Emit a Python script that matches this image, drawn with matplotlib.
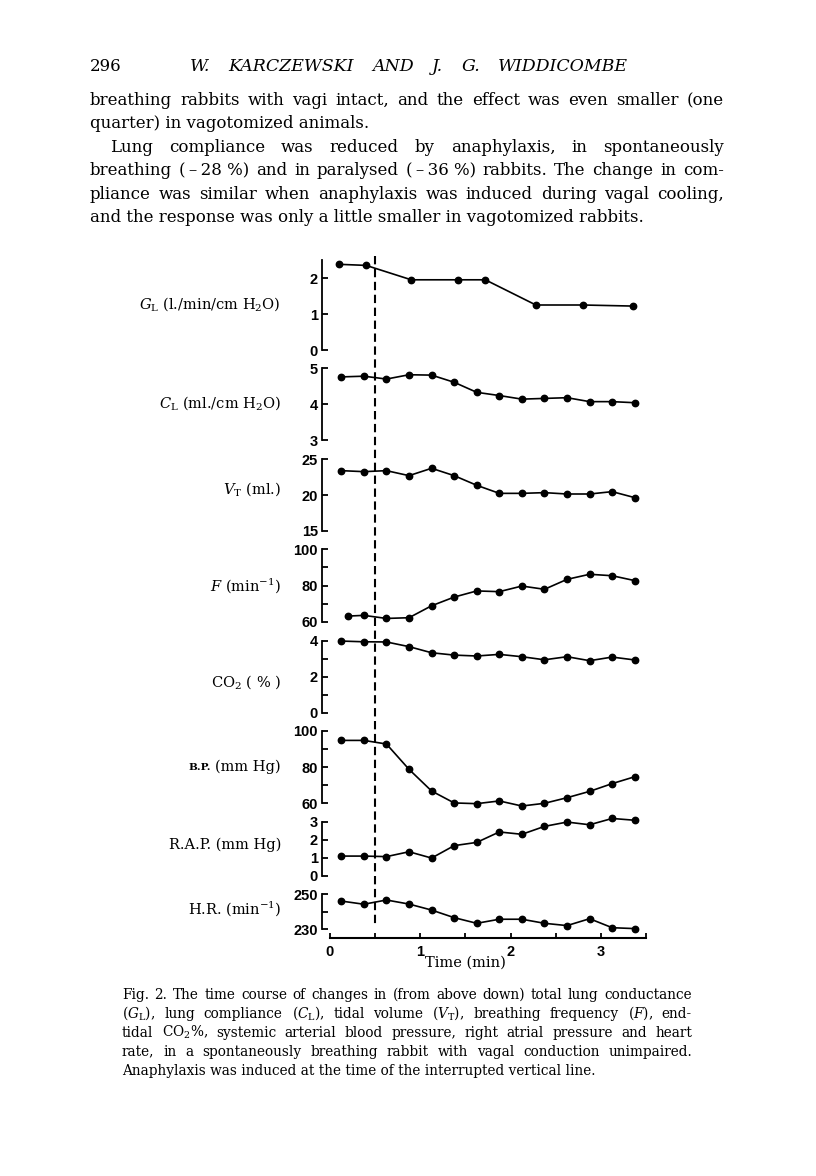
import matplotlib
matplotlib.use("Agg")
import matplotlib.pyplot as plt
from matplotlib.lines import Line2D
from matplotlib.transforms import blended_transform_factory

plt.rcParams['mathtext.fontset'] = 'dejavuserif'
plt.rcParams['font.family'] = ['DejaVu Serif']

# ---------------- data ----------------
GL_TIME = [0.10, 0.40, 0.90, 1.42, 1.72, 2.28, 2.80, 3.36]
GL = [2.38, 2.35, 1.95, 1.95, 1.95, 1.25, 1.25, 1.22]

TIME = [0.125, 0.375, 0.625, 0.875, 1.125, 1.375, 1.625, 1.875,
        2.125, 2.375, 2.625, 2.875, 3.125, 3.375]
F_TIME = [0.20, 0.375, 0.625, 0.875, 1.125, 1.375, 1.625, 1.875,
          2.125, 2.375, 2.625, 2.875, 3.125, 3.375]

CL = [4.76, 4.78, 4.70, 4.82, 4.81, 4.61, 4.33, 4.24, 4.14, 4.16, 4.18, 4.07, 4.07, 4.04]
VT = [23.41, 23.27, 23.41, 22.71, 23.74, 22.71, 21.36, 20.23, 20.23, 20.33, 20.14, 20.14, 20.47, 19.63]
F = [63.1, 63.5, 61.8, 62.2, 68.8, 73.6, 77.0, 76.6, 79.7, 77.9, 83.4, 86.2, 85.4, 82.7]
CO2 = [3.98, 3.94, 3.93, 3.67, 3.33, 3.20, 3.15, 3.24, 3.11, 2.94, 3.11, 2.89, 3.09, 2.93]
BP = [94.8, 94.8, 92.8, 78.8, 66.8, 60.2, 59.8, 61.3, 58.5, 60.0, 63.1, 66.6, 70.9, 74.7]
RAP = [1.09, 1.09, 1.06, 1.33, 0.98, 1.67, 1.85, 2.43, 2.30, 2.74, 2.98, 2.83, 3.18, 3.08]
HR = [246.0, 244.2, 246.6, 244.3, 240.9, 236.6, 233.4, 235.7, 235.7, 233.4, 232.1, 236.0, 230.9, 230.4]

ANAPHYLAXIS_TIME = 0.5
X_MAJOR = [0, 1, 2, 3]
X_MINOR = [0.5, 1.5, 2.5, 3.5]

LABELS = [r'$G_{\mathrm{L}}$ (l./min/cm H$_2$O)', r'$C_{\mathrm{L}}$ (ml./cm H$_2$O)',
          r'$V_{\mathrm{T}}$ (ml.)', r'$F$ (min$^{-1}$)', r'CO$_2$ ( % )',
          '(mm Hg)', 'R.A.P. (mm Hg)', r'H.R. (min$^{-1}$)']
YLIMS = [(0, 2.5), (3, 5), (15, 25), (60, 100), (0, 4), (60, 100), (0, 3), (230, 250)]
Y_MAJOR = [[0, 1, 2], [3, 4, 5], [15, 20, 25], [60, 80, 100], [0, 2, 4],
           [60, 80, 100], [0, 1, 2, 3], [230, 250]]
Y_MINOR = [[], [], [], [70, 90], [1, 3], [70, 90], [], [240]]
SERIES_T = [GL_TIME, TIME, TIME, F_TIME, TIME, TIME, TIME, TIME]
SERIES_V = [GL, CL, VT, F, CO2, BP, RAP, HR]

HEADER_NUM = "296"
HEADER_TITLE = "W. KARCZEWSKI AND J. G. WIDDICOMBE"
BODY = [
    ("breathing rabbits with vagi intact, and the effect was even smaller (one", True, 0),
    ("quarter) in vagotomized animals.", False, 0),
    ("Lung compliance was reduced by anaphylaxis, in spontaneously", True, 20),
    ("breathing (\u2009\u2013\u200928\u00a0%) and in paralysed (\u2009\u2013\u200936\u00a0%) rabbits. The change in com-", True, 0),
    ("pliance was similar when anaphylaxis was induced during vagal cooling,", True, 0),
    ("and the response was only a little smaller in vagotomized rabbits.", False, 0),
]
CAPTION = [
    ("Fig. 2. The time course of changes in (from above down) total lung conductance", True),
    (r"($G_{\mathrm{L}}$), lung compliance ($C_{\mathrm{L}}$), tidal volume ($V_{\mathrm{T}}$), breathing frequency ($F$), end-", True),
    (r"tidal CO$_2$%, systemic arterial blood pressure, right atrial pressure and heart", True),
    ("rate, in a spontaneously breathing rabbit with vagal conduction unimpaired.", True),
    ("Anaphylaxis was induced at the time of the interrupted vertical line.", False),
]

# ---------------- layout (pixels) ----------------
W, H = 816, 1176
fig = plt.figure(figsize=(W / 100, H / 100), dpi=100)
fig.patch.set_facecolor('white')

X0_PX, PX_PER_MIN = 330.0, 90.3
AX_LEFT, AX_RIGHT = 322.0, 650.0
XMIN = (AX_LEFT - X0_PX) / PX_PER_MIN
XMAX = (AX_RIGHT - X0_PX) / PX_PER_MIN

PANEL_PX = [(260, 350), (368.3, 440), (459.3, 530.7), (549.3, 621.7),
            (640.7, 712.7), (731, 803.3), (821.7, 875.7), (894, 929.3)]
LABEL_Y = [304, 403.5, 489, 585.7, 681.7, 766.7, 845, 908.3]
LABEL_RIGHT = 281

tick_font = dict(fontfamily='Liberation Sans', fontweight='bold', fontsize=10.5)
axes = []
label_texts = []
for i in range(8):
    top, bot = PANEL_PX[i]
    ax = fig.add_axes([AX_LEFT / W, 1 - bot / H, (AX_RIGHT - AX_LEFT) / W, (bot - top) / H])
    ax.patch.set_visible(False)
    ax.set_xlim(XMIN, XMAX)
    ax.set_ylim(*YLIMS[i])
    for s in ['top', 'right', 'bottom']:
        ax.spines[s].set_visible(False)
    ax.spines['left'].set_linewidth(1.3)
    ax.set_yticks(Y_MAJOR[i])
    ax.set_yticklabels([str(v) for v in Y_MAJOR[i]], **tick_font)
    ax.set_yticks(Y_MINOR[i], minor=True)
    ax.tick_params(axis='y', which='both', direction='in', length=4, width=1.3, pad=3)
    ax.set_xticks([])
    ax.plot(SERIES_T[i], SERIES_V[i], '-o', color='black', lw=1.2, ms=4.6, clip_on=False)
    t = fig.text(LABEL_RIGHT / W, 1 - LABEL_Y[i] / H, LABELS[i], ha='right', va='center',
                 fontsize=10.5)
    label_texts.append(t)
    axes.append(ax)

# small caps "B.P."
axes[5].annotate("B.P.", xy=(0, 0.30), xycoords=label_texts[5], xytext=(-3, 0),
                 textcoords='offset points', ha='right', va='baseline',
                 fontsize=7.5, fontweight='bold')

# bottom time axis on last panel
axb = axes[-1]
axb.spines['bottom'].set_visible(True)
axb.spines['bottom'].set_position(('outward', 6))
axb.spines['bottom'].set_bounds(0, 3.5)
axb.spines['bottom'].set_linewidth(1.5)
axb.set_xticks(X_MAJOR)
axb.set_xticklabels([str(v) for v in X_MAJOR], **tick_font)
axb.set_xticks(X_MINOR, minor=True)
axb.tick_params(axis='x', which='both', direction='in', length=3.5, width=1.3, pad=5)
fig.text(465.5 / W, 1 - 963 / H, "Time (min)", ha='center', va='center', fontsize=10.5)

# interrupted vertical line
tr = blended_transform_factory(axes[0].transData, fig.transFigure)
fig.add_artist(Line2D([ANAPHYLAXIS_TIME, ANAPHYLAXIS_TIME], [1 - 256 / H, 1 - 925 / H],
                      transform=tr, color='black', lw=1.5, ls=(0, (4, 2.2))))

# ---------------- text ----------------
renderer = fig.canvas.get_renderer()


def place_line(text, x0, x1, y, justify, **kw):
    if not justify:
        fig.text(x0 / W, 1 - y / H, text, ha='left', va='baseline', **kw)
        return
    tokens = text.split(' ')
    objs = [fig.text(0, 0, t, ha='left', va='baseline', **kw) for t in tokens]
    widths = [o.get_window_extent(renderer).width for o in objs]
    gap = (x1 - x0 - sum(widths)) / max(len(tokens) - 1, 1)
    if gap < 3:
        scale = (x1 - x0 - 3 * (len(tokens) - 1)) / sum(widths)
        for o in objs:
            o.set_fontsize(o.get_fontsize() * scale)
        widths = [o.get_window_extent(renderer).width for o in objs]
        gap = (x1 - x0 - sum(widths)) / max(len(tokens) - 1, 1)
    x = x0
    for o, w in zip(objs, widths):
        o.set_position((x / W, 1 - y / H))
        x += w + gap


BODY_LEFT, BODY_RIGHT = 90, 724
fig.text(BODY_LEFT / W, 1 - 71 / H, HEADER_NUM, ha='left', va='baseline', fontsize=12)
place_line(HEADER_TITLE, 190, 628, 71, True, fontsize=12.5, style='italic')

for k, (line, just, indent) in enumerate(BODY):
    place_line(line, BODY_LEFT + indent, BODY_RIGHT, 105 + 23.4 * k, just, fontsize=12)

CAP_LEFT, CAP_RIGHT = 122, 692
for k, (line, just) in enumerate(CAPTION):
    place_line(line, CAP_LEFT, CAP_RIGHT, 999 + 19 * k, just, fontsize=9.8)

fig.savefig("out.png", dpi=100, facecolor='white')
